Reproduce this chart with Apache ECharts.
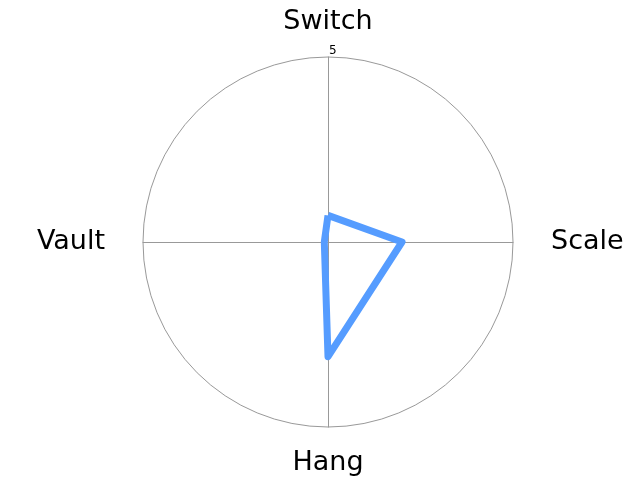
<!DOCTYPE html>
<html><head><meta charset="utf-8">
<script src="https://cdn.jsdelivr.net/npm/echarts@6/dist/echarts.min.js"></script>
<style>html,body{margin:0;padding:0;background:#fff}#c{width:640px;height:480px}</style>
</head><body><div id="c"></div>
<script>
var categories = ['Switch', 'Scale', 'Hang', 'Vault'];
var values = [0.72, 2.0, 3.1, 0.1];
var maxValue = 5;
var tickLabels = [5];

// ECharts radar goes counter-clockwise; reorder so categories run clockwise
var order = [0].concat(categories.slice(1).map(function (_, i) { return categories.length - 1 - i; }));
var indicators = order.map(function (i) { return {name: categories[i], max: maxValue, min: 0}; });
var ordered = order.map(function (i) { return values[i]; });

var chart = echarts.init(document.getElementById('c'), null, {renderer: 'canvas'});
chart.setOption({
  animation: false,
  backgroundColor: '#ffffff',
  radar: {
    center: [328, 242],
    radius: 185,
    shape: 'circle',
    startAngle: 90,
    splitNumber: 1,
    indicator: indicators,
    axisName: {color: '#000', fontSize: 27, fontFamily: 'DejaVu Sans', padding: [0, 16]},
    nameGap: 22,
    axisLine: {lineStyle: {color: '#999', width: 1}},
    splitLine: {lineStyle: {color: '#999', width: 1}},
    splitArea: {show: false},
    axisTick: {show: false},
    axisLabel: {show: false}
  },
  polar: {center: [328, 242], radius: 185},
  angleAxis: {type: 'value', startAngle: 90, min: 0, max: 360, show: false},
  radiusAxis: {
    type: 'value', min: 0, max: maxValue, interval: 5,
    axisLine: {show: false}, axisTick: {show: false}, splitLine: {show: false},
    axisLabel: {
      show: true, fontSize: 12, color: '#000', fontFamily: 'DejaVu Sans',
      align: 'left', verticalAlign: 'bottom', margin: -1,
      formatter: function (v) { return tickLabels.indexOf(v) >= 0 ? String(v) : ''; }
    }
  },
  series: [{
    type: 'radar',
    symbol: 'none',
    lineStyle: {color: '#559cff', width: 7, join: 'round'},
    areaStyle: null,
    data: [{value: ordered}]
  }]
});
</script></body></html>
